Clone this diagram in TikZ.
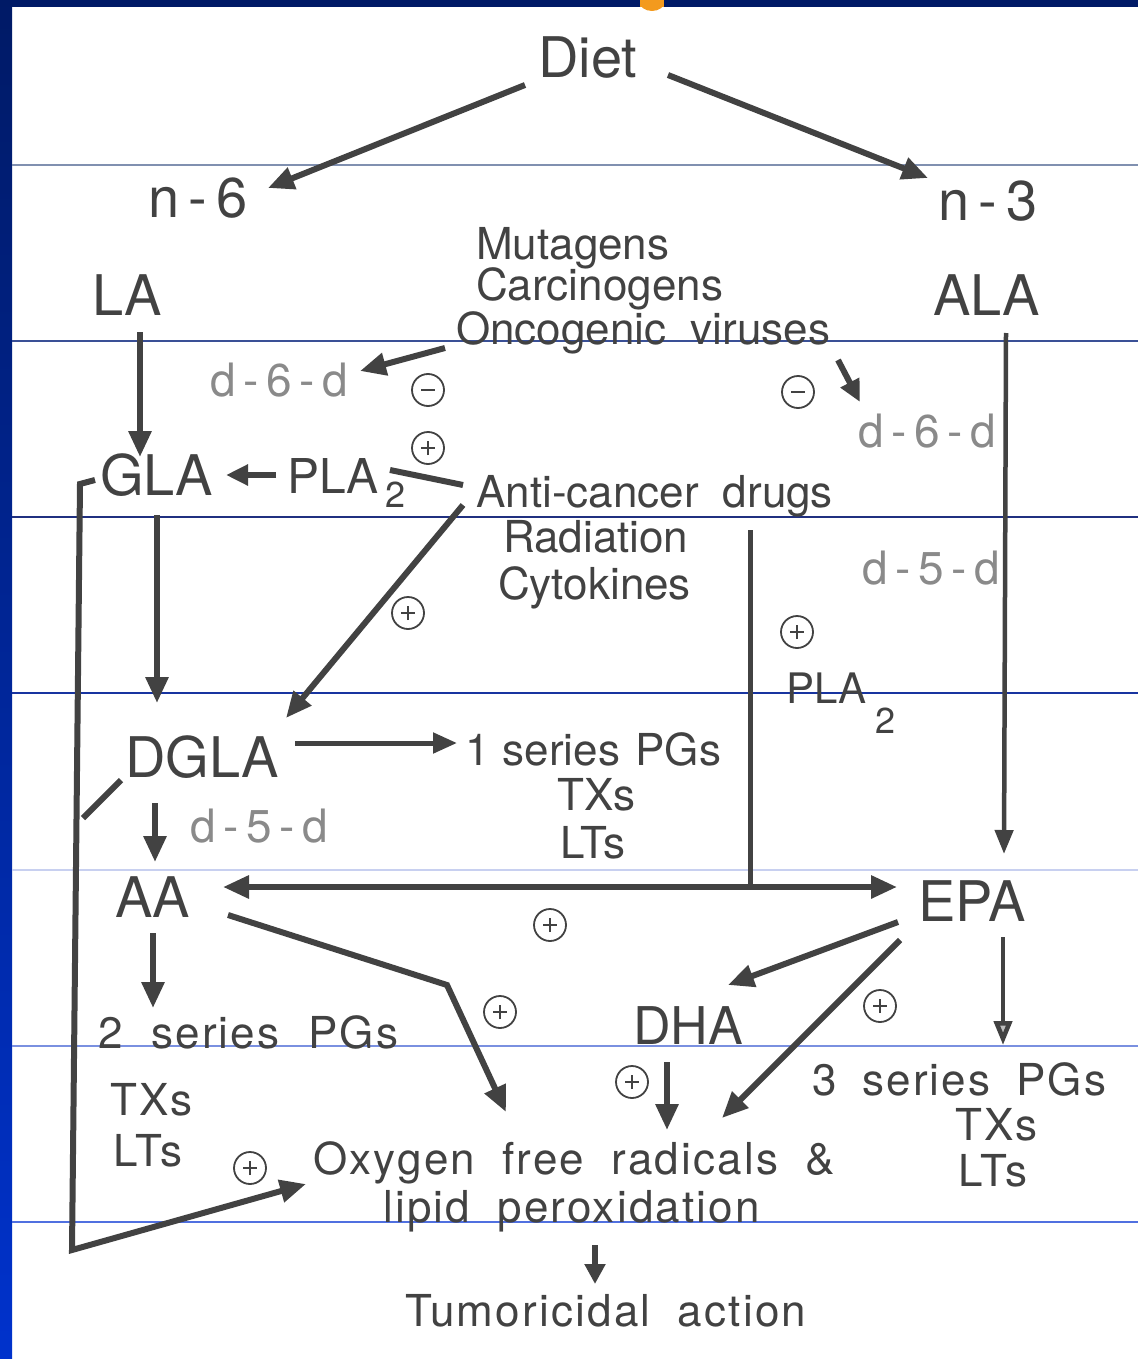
\documentclass[tikz,border=0pt]{standalone}
\usepackage{fontspec}
\setmainfont{TeX Gyre Heros}
\newfontfamily\trk[LetterSpace=5]{TeX Gyre Heros}
\usetikzlibrary{arrows.meta}
\definecolor{ink}{HTML}{424242}
\definecolor{lightink}{HTML}{8A8A8A}
\definecolor{navy}{HTML}{001A66}
\definecolor{barbot}{HTML}{0032CC}
\definecolor{orng}{HTML}{F39A1E}
\newcommand\wsp{\hspace{0.55em}}
\newcommand\tsp{\hspace{0.62em}}
\tikzset{
  lbl/.style={inner sep=0pt, anchor=base west, text=ink},
  big/.style={lbl, font=\fontsize{56}{60}\selectfont},
  mid/.style={lbl, font=\fontsize{44}{50}\selectfont},
  wide/.style={lbl, font=\trk\fontsize{44}{50}\selectfont},
  lite/.style={lbl, text=lightink, font=\fontsize{46}{50}\selectfont},
  sub/.style={lbl, font=\fontsize{36}{40}\selectfont},
  arr/.style={draw=ink, line width=6pt, -{Triangle[length=26pt,width=22pt]}},
  thinarr/.style={draw=ink, line width=4.5pt, -{Triangle[length=24pt,width=18pt]}},
  bar/.style={draw=ink, line width=6pt},
  sgn/.style={circle, draw=ink, line width=1.8pt, minimum size=32pt, inner sep=0pt},
  plus/.style={sgn, path picture={\draw[ink,line width=1.3pt] ([xshift=-7pt]path picture bounding box.center) -- ([xshift=7pt]path picture bounding box.center) ([yshift=-7pt]path picture bounding box.center) -- ([yshift=7pt]path picture bounding box.center);}},
  minus/.style={sgn, path picture={\draw[ink,line width=1.3pt] ([xshift=-7pt]path picture bounding box.center) -- ([xshift=7pt]path picture bounding box.center);}},
  rule/.style={line width=1.2pt}
}
\begin{document}
\begin{tikzpicture}[x=1pt,y=-1pt]
\useasboundingbox (0,0) rectangle (1138,1359);
% background
\fill[white] (0,0) rectangle (1138,1359);
\shade[top color=navy, bottom color=barbot] (0,0) rectangle (12,1359);
\begin{scope}
\clip (12,0) rectangle (1138,20);
\fill[orng] (652,1) ellipse (13pt and 10pt);
\fill[orng!40!yellow] (652,1) ellipse (5pt and 4pt);
\end{scope}
\fill[navy] (0,0) rectangle (1138,7);
\fill[orng] (640,0) rectangle (664,7);
\draw[rule, color={rgb,255:red,128;green,144;blue,176}] (12,165) -- (1138,165);
\draw[rule, color={rgb,255:red,58;green,80;blue,150}] (12,341) -- (1138,341);
\draw[rule, color={rgb,255:red,32;green,48;blue,128}] (12,517) -- (1138,517);
\draw[rule, color={rgb,255:red,24;green,52;blue,160}] (12,693) -- (1138,693);
\draw[rule, color={rgb,255:red,200;green,208;blue,240}] (12,870) -- (1138,870);
\draw[rule, color={rgb,255:red,122;green,144;blue,224}] (12,1046) -- (1138,1046);
\draw[rule, color={rgb,255:red,80;green,112;blue,224}] (12,1222) -- (1138,1222);

% labels
\node[big] (diet) at (538,78) {Diet};
\node[big] (n6) at (148,218) {n\,-\,6};
\node[big] (n3) at (938,220) {n\,-\,3};
\node[mid] (mut) at (476,259) {Mutagens};
\node[mid] (carc) at (476,300) {Carcinogens};
\node[mid] (onco) at (456,344) {Oncogenic\wsp viruses};
\node[big] (la) at (92,315) {LA};
\node[big] (ala) at (933,315) {ALA};
\node[lite] (d6l) at (210,396) {d\,-\,6\,-\,d};
\node[lite] (d6r) at (858,447) {d\,-\,6\,-\,d};
\node[big] (gla) at (100,495) {GLA};
\node[lbl, font=\fontsize{48}{50}\selectfont] (pla) at (287,493) {PLA};
\node[sub] (pla2) at (385,507) {2};
\node[mid] (acd) at (476,507) {Anti-cancer\wsp drugs};
\node[mid] (rad) at (503,552) {Radiation};
\node[mid] (cyt) at (498,599) {Cytokines};
\node[lite] (d5r) at (862,584) {d\,-\,5\,-\,d};
\node[lbl, font=\fontsize{42}{50}\selectfont] (plar) at (786,703) {PLA};
\node[sub] (plar2) at (875,733) {2};
\node[big] (dgla) at (125,777) {DGLA};
\node[mid] (s1) at (465,765) {1\hspace{0.3em}series\hspace{0.35em}PGs};
\node[mid] (tx1) at (557,810) {TXs};
\node[mid] (lt1) at (560,858) {LTs};
\node[lite] (d5l) at (190,842) {d\,-\,5\,-\,d};
\node[big] (aa) at (115,917) {AA};
\node[big] (epa) at (918,921) {EPA};
\node[wide] (s2) at (98,1048) {2\hspace{0.65em}series\hspace{0.65em}PGs};
\node[wide] (tx2) at (110,1115) {TXs};
\node[wide] (lt2) at (113,1166) {LTs};
\node[lbl, font=\fontsize{52}{56}\selectfont] (dha) at (633,1044) {DHA};
\node[wide] (s3) at (812,1095) {3\hspace{0.58em}series\hspace{0.58em}PGs};
\node[wide] (tx3) at (955,1140) {TXs};
\node[wide] (lt3) at (958,1186) {LTs};
\node[wide] (oxy) at (313,1174) {Oxygen\tsp free\tsp radicals\tsp\&};
\node[wide] (lip) at (383,1222) {lipid\tsp peroxidation};
\node[wide] (tum) at (405,1326) {Tumoricidal\tsp action};

% signs
\node[minus] (m1) at (428,390) {};
\node[plus] (p1) at (428,448) {};
\node[minus] (m2) at (798,392) {};
\node[plus] (p2) at (408,613) {};
\node[plus] (p3) at (797,632) {};
\node[plus] (p4) at (550,925) {};
\node[plus] (p5) at (500,1012) {};
\node[plus] (p6) at (880,1006) {};
\node[plus] (p7) at (632,1082) {};
\node[plus] (p8) at (250,1168) {};

% coordinates
\coordinate (dietL) at (525,85);
\coordinate (dietR) at (668,75);
\coordinate (n6t) at (268,188);
\coordinate (n3t) at (928,178);
\coordinate (laB) at (140,332);
\coordinate (glaT) at (140,457);
\coordinate (glaB) at (157,515);
\coordinate (dglaT) at (157,703);
\coordinate (plaL) at (276,475);
\coordinate (glaR) at (226,475);
\coordinate (pla2R) at (390,470);
\coordinate (acdL) at (463,485);
\coordinate (oncoL) at (445,348);
\coordinate (d6lR) at (360,371);
\coordinate (oncoR) at (838,360);
\coordinate (d6rT) at (860,402);
\coordinate (acdB) at (463,505);
\coordinate (dglaR) at (286,718);
\coordinate (alaB) at (1006,333);
\coordinate (epaT) at (1004,854);
\coordinate (vtop) at (750,530);
\coordinate (vbot) at (750,887);
\coordinate (dglaE) at (295,743);
\coordinate (s1W) at (457,743);
\coordinate (dglaB) at (155,803);
\coordinate (aaT) at (155,862);
\coordinate (aaR) at (223,887);
\coordinate (epaL) at (897,887);
\coordinate (aaB) at (153,933);
\coordinate (s2T) at (153,1008);
\coordinate (aaSE) at (228,915);
\coordinate (bend) at (447,985);
\coordinate (oxyT) at (506,1112);
\coordinate (epaW) at (898,922);
\coordinate (dhaT) at (728,985);
\coordinate (epaSW) at (900,940);
\coordinate (oxyR) at (722,1118);
\coordinate (epaB) at (1003,937);
\coordinate (s3T) at (1003,1045);
\coordinate (dhaB) at (667,1062);
\coordinate (oxyD) at (667,1130);
\coordinate (lipB) at (595,1245);
\coordinate (tumT) at (595,1284);
\coordinate (hookE) at (95,480);
\coordinate (hookC) at (80,484);
\coordinate (loopC) at (72,1250);
\coordinate (oxyL) at (306,1184);
\coordinate (dglaSW) at (121,780);
\coordinate (loopJ) at (83,818);

% connectors
\draw[arr] (dietL) -- (n6t);
\draw[arr] (dietR) -- (n3t);
\draw[arr] (laB) -- (glaT);
\draw[arr] (glaB) -- (dglaT);
\draw[arr, -{Triangle[length=22pt,width=20pt]}] (plaL) -- (glaR);
\draw[bar] (pla2R) -- (acdL);
\draw[arr, -{Triangle[length=26pt,width=22pt]}] (oncoL) -- (d6lR);
\draw[arr, -{Triangle[length=22pt,width=20pt]}] (oncoR) -- (d6rT);
\draw[arr] (acdB) -- (dglaR);
\draw[thinarr] (alaB) -- (epaT);
\draw[draw=ink, line width=5pt] (vtop) -- (vbot);
\draw[arr, line width=5pt, -{Triangle[length=24pt,width=20pt]}] (dglaE) -- (s1W);
\draw[arr] (dglaB) -- (aaT);
\draw[arr, {Triangle[length=26pt,width=22pt]}-{Triangle[length=26pt,width=22pt]}] (aaR) -- (epaL);
\draw[arr] (aaB) -- (s2T);
\draw[arr, line join=miter] (aaSE) -- (bend) -- (oxyT);
\draw[arr] (epaW) -- (dhaT);
\draw[arr] (epaSW) -- (oxyR);
\draw[draw=ink, line width=4.5pt, -{Triangle[open, length=24pt, width=18pt, fill=ink!35]}] (epaB) -- (s3T);
\draw[arr] (dhaB) -- (oxyD);
\draw[arr, -{Triangle[length=20pt,width=20pt]}] (lipB) -- (tumT);
\draw[arr, line join=miter] (hookE) -- (hookC) -- (loopC) -- (oxyL);
\draw[bar] (dglaSW) -- (loopJ);
\end{tikzpicture}
\end{document}
